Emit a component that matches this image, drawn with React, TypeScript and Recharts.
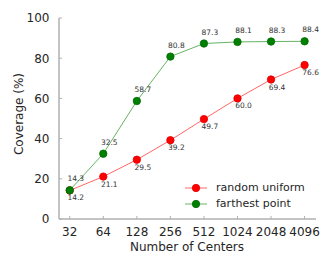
import React from 'react';
import { LineChart, Line, XAxis, YAxis, Legend, LabelList, Label } from 'recharts';

const centers = [32, 64, 128, 256, 512, 1024, 2048, 4096];
const randomUniform = [14.2, 21.1, 29.5, 39.2, 49.7, 60.0, 69.4, 76.6];
const farthestPoint = [14.3, 32.5, 58.7, 80.8, 87.3, 88.1, 88.3, 88.4];
const yTicks = [0, 20, 40, 60, 80, 100];
const seriesNames = ['random uniform', 'farthest point'];

const data = centers.map((c, i) => ({
  lx: Math.log2(c),
  ru: randomUniform[i],
  fp: farthestPoint[i],
}));
const xTicks = centers.map((c) => Math.log2(c));

const FONT = 'DejaVu Sans, sans-serif';
const AXIS = '#b0b0b0';
const TEXT = '#262626';

const XTick = (props: any) => {
  const { x, y, payload } = props;
  return (
    <g>
      <line x1={x} x2={x} y1={y} y2={y - 3} stroke={AXIS} strokeWidth={1} />
      <text x={x} y={y + 16.5} textAnchor="middle" fontSize={12} fontFamily={FONT} fill={TEXT}>
        {String(Math.round(Math.pow(2, payload.value)))}
      </text>
    </g>
  );
};

const YTick = (props: any) => {
  const { x, y, payload } = props;
  return (
    <g>
      <line x1={x} x2={x + 3} y1={y} y2={y} stroke={AXIS} strokeWidth={1} />
      <text x={x - 9.5} y={y + 4.3} textAnchor="end" fontSize={12} fontFamily={FONT} fill={TEXT}>
        {payload.value}
      </text>
    </g>
  );
};

const makeLabel = (above: boolean) => (props: any) => {
  const { x, y, value } = props;
  return (
    <text
      x={x + 6}
      y={above ? y - 9 : y + 10}
      textAnchor="middle"
      fontSize={7.5}
      fontFamily={FONT}
      fill="#333333"
    >
      {Number(value).toFixed(1)}
    </text>
  );
};

const LegendContent = () => {
  const rows = [
    { name: seriesNames[0], line: '#ff6666', fill: '#ff0000', edge: '#e00000' },
    { name: seriesNames[1], line: '#66b366', fill: '#008000', edge: '#006a00' },
  ];
  return (
    <div style={{ position: 'relative', width: 140, height: 34 }}>
      {rows.map((r, i) => (
        <div key={r.name} style={{ position: 'absolute', left: 0, top: i * 16, height: 16, width: 140 }}>
          <svg width={24} height={16} style={{ position: 'absolute', left: 0, top: 0 }}>
            <line x1={1} x2={23} y1={8} y2={8} stroke={r.line} strokeWidth={1} />
            <circle cx={12} cy={8} r={3.7} fill={r.fill} stroke={r.edge} strokeWidth={0.8} />
          </svg>
          <span
            style={{
              position: 'absolute',
              left: 32,
              top: 0,
              lineHeight: '16px',
              fontSize: 11,
              fontFamily: FONT,
              color: TEXT,
              whiteSpace: 'nowrap',
            }}
          >
            {r.name}
          </span>
        </div>
      ))}
    </div>
  );
};

export default function App() {
  return (
    <div style={{ position: 'absolute', left: 0, top: 0, width: 332, height: 266, background: '#fff' }}>
      <LineChart
        width={332}
        height={266}
        data={data}
        margin={{ top: 18, right: 16, left: 0, bottom: 0 }}
      >
        <XAxis
          dataKey="lx"
          type="number"
          domain={[4.68, 12.34]}
          ticks={xTicks}
          height={47}
          tickSize={0}
          tickMargin={0}
          tick={<XTick />}
          stroke={AXIS}
          strokeWidth={1.5}
          allowDataOverflow
        >
          <Label
            content={() => (
              <text x={187} y={251} textAnchor="middle" fontSize={12} fontFamily={FONT} fill={TEXT}>
                Number of Centers
              </text>
            )}
          />
        </XAxis>
        <YAxis
          type="number"
          domain={[0, 100]}
          ticks={yTicks}
          width={59}
          tickSize={0}
          tickMargin={0}
          tick={<YTick />}
          stroke={AXIS}
          strokeWidth={1.5}
        >
          <Label
            content={() => (
              <text
                x={18.5}
                y={114}
                transform="rotate(-90 18.5 114)"
                textAnchor="middle"
                dominantBaseline="central"
                fontSize={12}
                fontFamily={FONT}
                fill={TEXT}
              >
                Coverage (%)
              </text>
            )}
          />
        </YAxis>
        <Legend
          layout="horizontal"
          verticalAlign="middle"
          align="center"
          content={<LegendContent />}
          wrapperStyle={{ position: 'absolute', left: 184, top: 180, width: 140, height: 34 }}
        />
        <Line
          dataKey="ru"
          name={seriesNames[0]}
          type="linear"
          stroke="#ff6666"
          strokeWidth={1}
          dot={{ r: 3.7, fill: '#ff0000', stroke: '#e00000', strokeWidth: 0.8 }}
          isAnimationActive={false}
        >
          <LabelList dataKey="ru" content={makeLabel(false)} />
        </Line>
        <Line
          dataKey="fp"
          name={seriesNames[1]}
          type="linear"
          stroke="#66b366"
          strokeWidth={1}
          dot={{ r: 3.7, fill: '#008000', stroke: '#006a00', strokeWidth: 0.8 }}
          isAnimationActive={false}
        >
          <LabelList dataKey="fp" content={makeLabel(true)} />
        </Line>
      </LineChart>
    </div>
  );
}
